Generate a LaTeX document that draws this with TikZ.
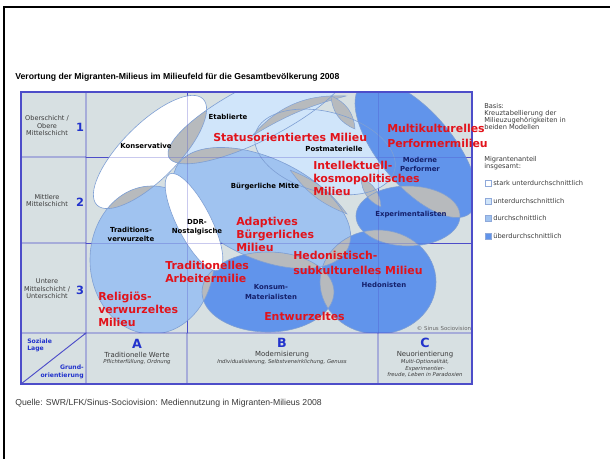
\documentclass[tikz,border=0pt]{standalone}
\usepackage{fontspec}
\setmainfont{DejaVu Sans}
\newfontfamily\arialf{Liberation Sans}
\definecolor{cellbg}{HTML}{D7E0E2}
\definecolor{gridc}{HTML}{4D4DC9}
\definecolor{lb}{HTML}{D0E5FA}
\definecolor{mb}{HTML}{A0C3F0}
\definecolor{db}{HTML}{6194EB}
\definecolor{grc}{HTML}{B7BABD}
\definecolor{olc}{HTML}{7E9FD4}
\definecolor{redc}{HTML}{E2131B}
\definecolor{navy}{HTML}{15206B}
\definecolor{bluec}{HTML}{2233CC}
\definecolor{txtg}{HTML}{3A3A3A}
\definecolor{legbd}{HTML}{8FA9DA}
\newcommand\blob[6]{\path[#6, rotate around={#5:(#1,#2)}] (#1,#2) ellipse (#3 and #4);}
\newcommand\shEtab[1]{\blob{258}{112}{100}{28}{27}{#1}}
\newcommand\shPost[1]{\blob{325}{152}{72}{40}{-15}{#1}}
\newcommand\shMP[1]{\blob{416}{149}{84}{37}{-50}{#1}}
\newcommand\shKons[1]{\blob{150}{152}{75}{28}{45}{#1}}
\newcommand\shTV[1]{\blob{152}{260}{62}{74}{0}{#1}}
\newcommand\shBM[1]{\blob{262}{208}{95}{50}{-25}{#1}}
\newcommand\shDDR[1]{\blob{194}{222}{54}{17}{-63}{#1}}
\newcommand\shKM[1]{\blob{268}{292}{66}{40}{0}{#1}}
\newcommand\shExp[1]{\blob{408}{216}{52}{30}{0}{#1}}
\newcommand\shHed[1]{\blob{378}{282}{58}{52}{0}{#1}}
\newcommand\lens[2]{\begin{scope}#1{clip}#2{fill=grc}\end{scope}}
\tikzset{
  redlab/.style={font=\bfseries\fontsize{8.2}{9.75}\selectfont, text=redc, inner sep=0, anchor=west, align=left},
  blab/.style={font=\bfseries\fontsize{5.2}{6.75}\selectfont, text=black, inner sep=0, align=center},
  nlab/.style={blab, text=navy},
  rowlab/.style={font=\fontsize{4.9}{5.6}\selectfont, text=txtg, inner sep=0, align=center},
  digit/.style={font=\bfseries\fontsize{8.5}{9}\selectfont, text=bluec, inner sep=0},
  colletter/.style={font=\bfseries\fontsize{9.5}{10}\selectfont, text=bluec, inner sep=0},
  colmain/.style={font=\fontsize{5.2}{6}\selectfont, text=txtg, inner sep=0},
  colsub/.style={font=\itshape\fontsize{4}{5}\selectfont, text=txtg, inner sep=0, align=center},
  legtxt/.style={font=\fontsize{5}{5.25}\selectfont, text=txtg, inner sep=0, anchor=west, align=left},
  outl/.style={draw=olc, line width=0.45pt},
  gridl/.style={draw=gridc, line width=0.7pt},
  mlens/.style={fill=grc, draw=olc, line width=0.35pt}
}
\begin{document}
\begin{tikzpicture}[x=0.75pt,y=-0.75pt]
\useasboundingbox (0,0) rectangle (610,459);
\fill[white] (0,0) rectangle (610,459);
\draw[black, line width=1.6pt] (4,459) -- (4,7) -- (610,7);

\node[anchor=west, font=\arialf\bfseries\fontsize{6.5}{7.8}\selectfont, inner sep=0] (title) at (15,77)
  {Verortung der Migranten-Milieus im Milieufeld für die Gesamtbevölkerung 2008};
\node[anchor=west, font=\arialf\fontsize{6.5}{7.8}\selectfont, text=txtg, inner sep=0] (source) at (15,403)
  {Quelle: SWR/LFK/Sinus-Sociovision: Mediennutzung in Migranten-Milieus 2008};

% chart background and grid under blobs
\fill[cellbg] (21,92) rectangle (472,384);
\path[gridl] (187,92) -- (187,333) (378,92) -- (378,333) (86,157) -- (472,157) (86,243) -- (472,243);

% milieu blobs
\begin{scope}
\clip (86,92) rectangle (472,333);
\shEtab{fill=lb}
\shPost{fill=lb}
\shMP{fill=db}
\shKons{fill=white}
\shTV{fill=mb}
\shBM{fill=mb}
\shKM{fill=db}
\shExp{fill=db}
\shHed{fill=db}
\lens{\shKons}{\shEtab}
\lens{\shKons}{\shTV}
\lens{\shEtab}{\shBM}
\lens{\shMP}{\shExp}
\lens{\shBM}{\shExp}
\lens{\shBM}{\shHed}
\lens{\shExp}{\shHed}
\lens{\shKM}{\shHed}
\lens{\shBM}{\shKM}
\lens{\shTV}{\shKM}
\lens{\shTV}{\shBM}
\path[mlens] (252,136) to[bend left=26] (346,96) to[bend right=8] (252,136);
\path[mlens] (331,96) to[bend left=32] (355,129) to[bend left=32] (331,96);
\path[mlens] (290,170) to[bend left=16] (347,214) to[bend left=16] (290,170);
\path[mlens] (361,178) to[bend left=32] (381,207) to[bend left=32] (361,178);
\shEtab{outl}\shPost{outl}\shMP{outl}\shKons{outl}\shTV{outl}\shBM{outl}
\shKM{outl}\shExp{outl}\shHed{outl}
\shDDR{fill=white, outl}
\path[gridl, draw opacity=0.3] (187,92) -- (187,333) (378,92) -- (378,333) (86,157) -- (472,157) (86,243) -- (472,243);
\end{scope}

% frame grid
\path[gridl] (86,92) -- (86,384) (21,157) -- (86,157) (21,243) -- (86,243)
  (21,333) -- (472,333) (187,333) -- (187,384) (378,333) -- (378,384) (21,384) -- (86,333);
\draw[gridc, line width=0.85pt] (21,92) rectangle (472,384);

% row labels
\node[rowlab] (r1) at (47,126) {Oberschicht /\\Obere\\Mittelschicht};
\node[digit] (d1) at (80,127) {1};
\node[rowlab] (r2) at (47,200.5) {Mittlere\\Mittelschicht};
\node[digit] (d2) at (80,202) {2};
\node[rowlab] (r3) at (47,289) {Untere\\Mittelschicht /\\Unterschicht};
\node[digit] (d3) at (80,290) {3};

% bottom axis
\node[font=\bfseries\fontsize{4.6}{5.2}\selectfont, text=bluec, inner sep=0, anchor=west, align=left] (sl) at (27,345.5) {Soziale\\Lage};
\node[font=\bfseries\fontsize{4.6}{5.6}\selectfont, text=bluec, inner sep=0, anchor=east, align=right] (go) at (84,372) {Grund-\\orientierung};
\node[colletter] (ca) at (137,344) {A};
\node[colmain] (cat) at (137,355) {Traditionelle Werte};
\node[colsub] (cas) at (137,362) {Pflichterfüllung, Ordnung};
\node[colletter] (cb) at (282,343) {B};
\node[colmain] (cbt) at (282,355) {Modernisierung};
\node[colsub] (cbs) at (282,362) {Individualisierung, Selbstverwirklichung, Genuss};
\node[colletter] (cc) at (425,343) {C};
\node[colmain] (cct) at (425,355) {Neuorientierung};
\node[colsub] (ccs) at (425,368.5) {Multi-Optionalität,\\Experimentier-\\freude, Leben in Paradoxien};

% legend
\node[legtxt] (basis) at (484,116.5) {Basis:\\Kreuztabellierung der\\Milieuzugehörigkeiten in\\beiden Modellen};
\node[legtxt] (mig) at (484,163.5) {Migrantenanteil\\insgesamt:};
\draw[legbd, fill=white, line width=0.4pt] (485,180) rectangle (491,186);
\draw[legbd, fill=lb, line width=0.4pt] (485,198) rectangle (491,204);
\draw[legbd, fill=mb, line width=0.4pt] (485,215) rectangle (491,221);
\draw[legbd, fill=db, line width=0.4pt] (485,233) rectangle (491,239);
\node[legtxt] (l1) at (493,183) {stark unterdurchschnittlich};
\node[legtxt] (l2) at (493,201) {unterdurchschnittlich};
\node[legtxt] (l3) at (493,218) {durchschnittlich};
\node[legtxt] (l4) at (493,236) {überdurchschnittlich};

% milieu names
\node[blab] (etab) at (228,117) {Etablierte};
\node[blab] (kons) at (146,146) {Konservative};
\node[blab] (post) at (334,149) {Postmaterielle};
\node[nlab] (mp) at (420,164.5) {Moderne\\Performer};
\node[blab] (bm) at (265,187) {Bürgerliche Mitte};
\node[blab] (tv) at (131,234.5) {Traditions-\\verwurzelte};
\node[blab] (ddr) at (197,227.5) {DDR-\\Nostalgische};
\node[nlab] (exp) at (411,215) {Experimentalisten};
\node[nlab] (hed) at (384,285) {Hedonisten};
\node[nlab, font=\bfseries\fontsize{5.2}{7.5}\selectfont] (km) at (271,292) {Konsum-\\Materialisten};
\node[font=\fontsize{4.1}{5}\selectfont, text=black!60, inner sep=0] (copy) at (444,328) {© Sinus Sociovision};

% migrant milieus
\node[redlab] (m1) at (213,137) {Statusorientiertes Milieu};
\node[redlab, font=\bfseries\fontsize{8.2}{11.25}\selectfont] (m2) at (387,135.5) {Multikulturelles\\Performermilieu};
\node[redlab] (m3) at (313,178) {Intellektuell-\\kosmopolitisches\\Milieu};
\node[redlab] (m4) at (236,234) {Adaptives\\Bürgerliches\\Milieu};
\node[redlab] (m5) at (165,271.5) {Traditionelles\\Arbeitermilie};
\node[redlab] (m6) at (98,309) {Religiös-\\verwurzeltes\\Milieu};
\node[redlab, font=\bfseries\fontsize{8.2}{11.25}\selectfont] (m7) at (293,262.5) {Hedonistisch-\\subkulturelles Milieu};
\node[redlab] (m8) at (264,316) {Entwurzeltes};
\end{tikzpicture}
\end{document}
